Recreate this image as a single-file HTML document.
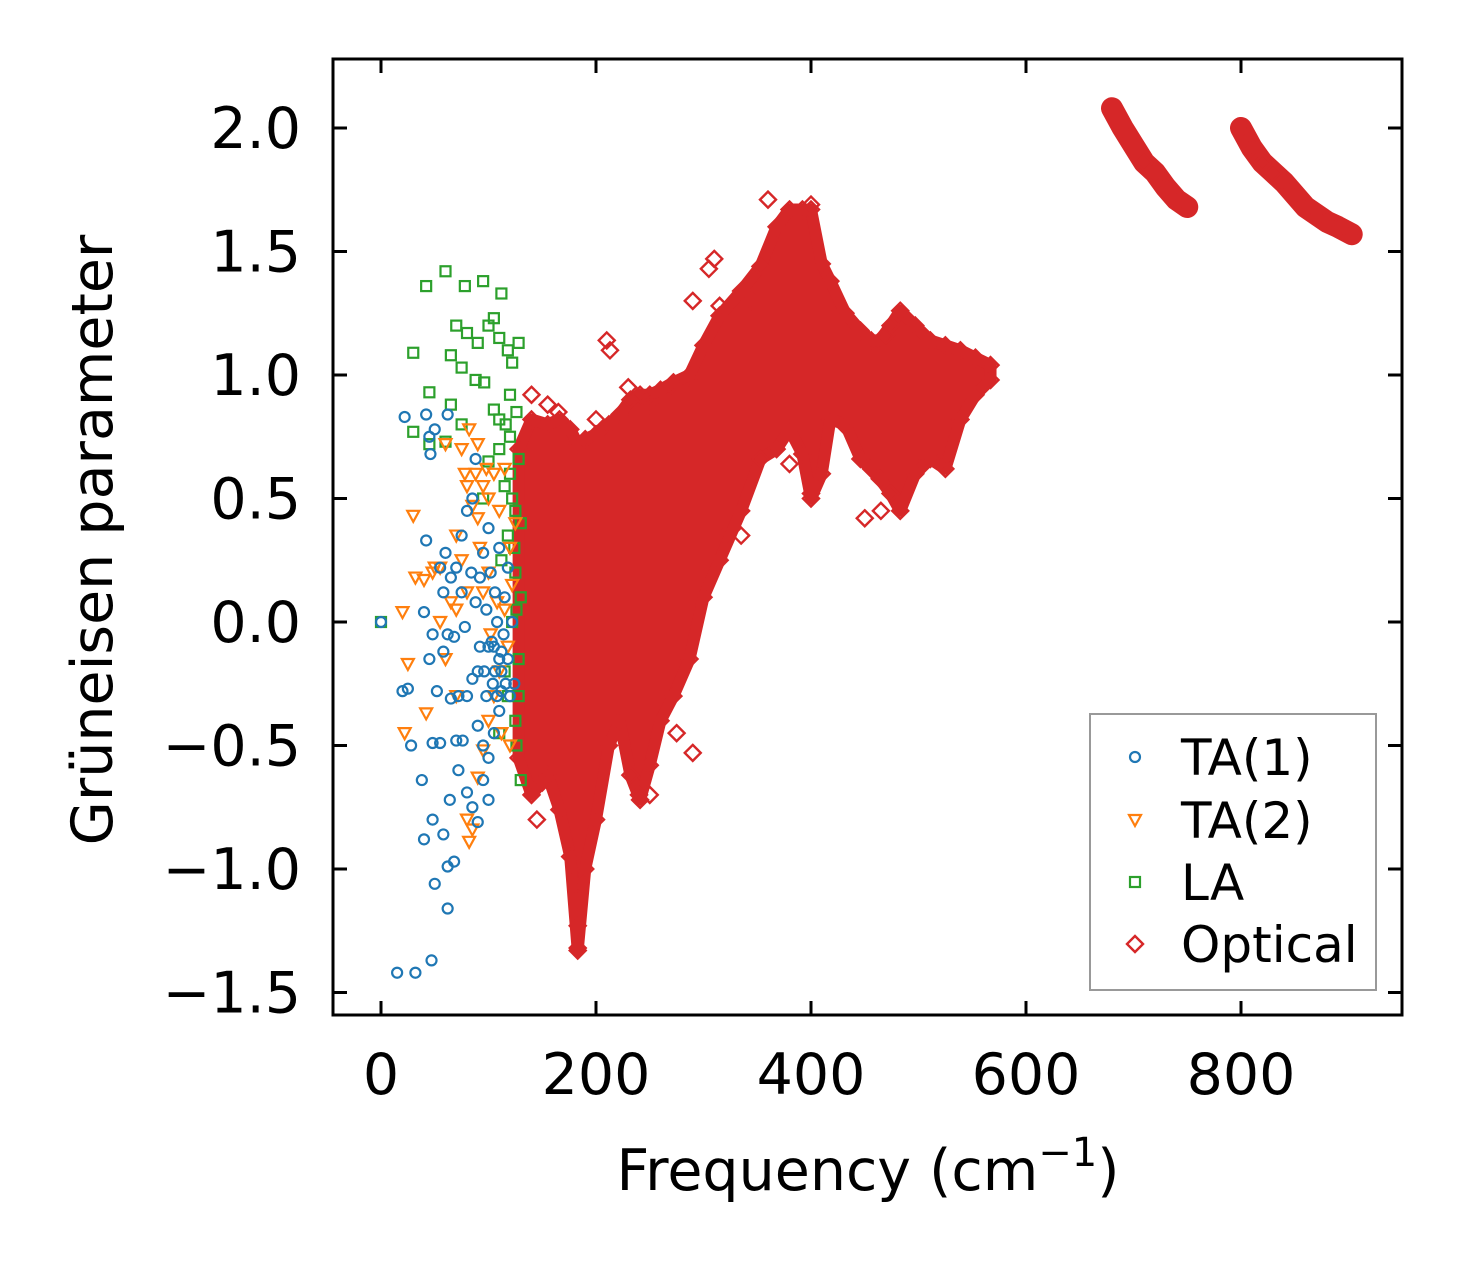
<!DOCTYPE html>
<html><head><meta charset="utf-8">
<style>
html,body{margin:0;padding:0;background:#fff;}
svg{display:block;font-family:"DejaVu Sans","Liberation Sans",sans-serif;}
</style></head>
<body>
<svg id="chart" width="1462" height="1264" viewBox="0 0 1462 1264">
<g id="plot"></g>
<g id="axes"></g>
</svg>
<script>
// ---- data ----
const xTicks = [0, 200, 400, 600, 800];
const yTicks = [2.0, 1.5, 1.0, 0.5, 0.0, -0.5, -1.0, -1.5];
const yTickLabels = ["2.0", "1.5", "1.0", "0.5", "0.0", "\u22120.5", "\u22121.0", "\u22121.5"];
const ta1 = [[0,0],[15,-1.42],[32,-1.42],[47,-1.37],[20,-0.28],[25,-0.27],[28,-0.5],[38,-0.64],[40,-0.88],[48,-0.8],[50,-1.06],[58,-0.86],[62,-1.16],[62,-0.99],[68,-0.97],[64,-0.72],[55,-0.49],[48,-0.49],[70,-0.48],[76,-0.48],[72,-0.6],[80,-0.69],[85,-0.75],[90,-0.81],[95,-0.64],[100,-0.72],[42,0.33],[45,-0.15],[48,-0.05],[40,0.04],[55,0.22],[60,0.28],[58,0.12],[65,0.18],[70,0.22],[75,0.35],[80,0.45],[85,0.5],[88,0.66],[75,0.12],[68,-0.06],[72,-0.3],[80,-0.3],[85,-0.23],[90,-0.42],[95,-0.5],[100,-0.55],[105,-0.45],[110,-0.36],[58,-0.12],[62,-0.05],[52,-0.28],[65,-0.31],[78,-0.02],[88,0.08],[92,-0.1],[98,0.05],[102,0.2],[105,-0.1],[108,0.0],[112,-0.2],[115,0.1],[118,-0.15],[120,-0.3],[110,0.3],[100,0.38],[95,0.28],[90,-0.2],[96,-0.2],[104,-0.25],[114,-0.05],[106,0.12],[118,0.22],[122,0.0],[124,-0.25],[108,-0.3],[112,-0.12],[92,0.18],[84,0.2],[45,0.75],[50,0.78],[22,0.83],[42,0.84],[62,0.84],[46,0.68],[103,-0.08],[110,-0.15],[116,-0.25],[106,-0.2],[100,-0.1],[98,-0.3],[112,-0.28]];
const ta2 = [[30,0.43],[20,0.04],[25,-0.17],[22,-0.45],[42,-0.37],[32,0.18],[40,0.17],[48,0.2],[55,0.22],[60,0.72],[75,0.7],[90,0.72],[82,0.78],[88,0.6],[95,0.55],[100,0.5],[90,0.42],[80,0.55],[85,0.47],[70,0.35],[75,0.25],[80,0.12],[65,0.08],[55,0.0],[60,-0.15],[70,-0.3],[80,-0.8],[85,-0.84],[82,-0.89],[90,-0.63],[95,-0.52],[100,-0.4],[105,-0.3],[110,-0.2],[115,0.05],[120,0.3],[110,0.45],[105,0.6],[115,0.62],[100,0.2],[95,0.12],[102,-0.05],[108,0.08],[118,-0.1],[122,0.15],[112,-0.45],[120,-0.5],[125,0.4],[98,0.62],[92,0.3],[70,0.05],[50,0.22],[78,0.6]];
const la = [[0,0],[30,1.09],[42,1.36],[60,1.42],[78,1.36],[95,1.38],[112,1.33],[70,1.2],[80,1.17],[90,1.13],[100,1.2],[105,1.23],[110,1.15],[118,1.1],[122,1.05],[128,1.13],[65,1.08],[75,1.03],[45,0.93],[30,0.77],[45,0.72],[60,0.73],[65,0.88],[75,0.8],[88,0.98],[96,0.97],[105,0.86],[110,0.82],[116,0.8],[120,0.92],[126,0.85],[100,0.65],[110,0.7],[115,0.55],[120,0.6],[125,0.45],[130,0.4],[118,0.35],[112,0.25],[125,0.2],[130,0.1],[122,0.0],[128,-0.15],[118,-0.3],[125,-0.4],[110,-0.45],[130,-0.64],[126,-0.5],[115,-0.2],[95,0.5],[120,0.75],[128,0.66],[124,0.3],[128,-0.3],[122,0.5],[126,0.05]];
// optical envelope: frequency, lower, upper
const optFreq = [128,140,155,166,176,183,190,200,212,222,232,241,250,260,272,287,300,315,335,353,368,380,392,400,410,418,432,446,456,464,474,483,497,511,525,539,553,567];
const optLow  = [-0.55,-0.7,-0.62,-0.76,-0.95,-1.33,-1.0,-0.8,-0.5,-0.4,-0.62,-0.72,-0.58,-0.4,-0.3,-0.15,0.1,0.25,0.45,0.66,0.7,0.78,0.68,0.5,0.6,0.82,0.8,0.66,0.62,0.58,0.52,0.45,0.6,0.66,0.62,0.82,0.92,0.98];
const optHigh = [0.7,0.82,0.8,0.82,0.78,0.72,0.74,0.76,0.8,0.84,0.9,0.92,0.92,0.94,0.97,1.0,1.12,1.24,1.34,1.44,1.6,1.67,1.67,1.67,1.45,1.38,1.25,1.18,1.14,1.14,1.2,1.26,1.2,1.14,1.12,1.1,1.07,1.04];
const optOutliers = [[360,1.71],[400,1.69],[310,1.47],[305,1.43],[290,1.3],[315,1.28],[345,1.3],[210,1.14],[213,1.1],[335,0.35],[320,0.35],[470,1.16],[450,0.42],[465,0.45],[290,-0.53],[250,-0.7],[240,-0.7],[183,-1.32],[183,-1.23],[145,-0.8],[140,0.92],[165,0.85],[230,0.95],[250,0.88],[270,0.96],[286,0.98],[380,0.64],[400,0.52],[430,0.8],[500,0.62],[520,0.65],[275,-0.45],[210,-0.5],[150,-0.65],[183,-1.12],[183,-1.02],[155,0.88],[200,0.82]];
const band1 = [[680,2.08],[690,2.0],[700,1.93],[710,1.86],[720,1.82],[730,1.76],[740,1.71],[750,1.68]];
const band2 = [[800,2.0],[810,1.92],[820,1.86],[830,1.82],[840,1.78],[850,1.73],[860,1.68],[870,1.65],[880,1.62],[890,1.6],[903,1.57]];

// ---- scales ----
const X0 = 333, X1 = 1402, Y0 = 59, Y1 = 1015;
function sx(f){ return 381 + f * 1.075; }
function sy(g){ return 622 - g * 247; }
const NS = "http://www.w3.org/2000/svg";
const plot = document.getElementById('plot');
const axes = document.getElementById('axes');
function mk(tag, attrs, parent){
  const e = document.createElementNS(NS, tag);
  for (const k in attrs) e.setAttribute(k, attrs[k]);
  parent.appendChild(e);
  return e;
}
const C_BLUE="#1f77b4", C_OR="#ff7f0e", C_GR="#2ca02c", C_RED="#d62728";

function diamond(cx, cy, parent, name){
  const s = 8;
  const e = mk('polygon', {points:`${cx},${cy-s} ${cx+s},${cy} ${cx},${cy+s} ${cx-s},${cy}`, fill:'none', stroke:C_RED, 'stroke-width':2.4}, parent);
  
  
}

let pts = [];
for (let i=0;i<optFreq.length;i++) pts.push(sx(optFreq[i])+','+sy(optHigh[i]));
for (let i=optFreq.length-1;i>=0;i--) pts.push(sx(optFreq[i])+','+sy(optLow[i]));
const env = mk('polygon', {points:pts.join(' '), fill:C_RED, stroke:C_RED, 'stroke-width':12, 'stroke-linejoin':'round'}, plot);


for (let i=0;i<optFreq.length;i++){
  diamond(sx(optFreq[i]), sy(optHigh[i]), plot, 'optical-point');
  diamond(sx(optFreq[i]), sy(optLow[i]), plot, 'optical-point');
}
optOutliers.forEach(p => diamond(sx(p[0]), sy(p[1]), plot, 'optical-point'));
[band1, band2].forEach((b, bi) => {
  const pl = mk('polyline', {points:b.map(p=>sx(p[0])+','+sy(p[1])).join(' '), fill:'none', stroke:C_RED, 'stroke-width':22, 'stroke-linecap':'round', 'stroke-linejoin':'round'}, plot);
  
  
  b.forEach(p => diamond(sx(p[0]), sy(p[1]), plot, 'optical-point'));
});

la.forEach(p => {
  const e = mk('rect', {x:sx(p[0])-5, y:sy(p[1])-5, width:10, height:10, fill:'none', stroke:C_GR, 'stroke-width':2.2}, plot);
  
  
});
ta2.forEach(p => {
  const cx = sx(p[0]), cy = sy(p[1]);
  const e = mk('polygon', {points:`${cx-6},${cy-5} ${cx+6},${cy-5} ${cx},${cy+6}`, fill:'none', stroke:C_OR, 'stroke-width':2.2}, plot);
  
  
});
ta1.forEach(p => {
  const e = mk('circle', {cx:sx(p[0]), cy:sy(p[1]), r:5, fill:'none', stroke:C_BLUE, 'stroke-width':2.2}, plot);
  
  
});

const fr = mk('rect', {x:X0, y:Y0, width:X1-X0, height:Y1-Y0, fill:'none', stroke:'#000', 'stroke-width':3}, axes);


const T = 14;
xTicks.forEach(v => {
  const x = sx(v);
  mk('line', {x1:x, y1:Y1, x2:x, y2:Y1-T, stroke:'#000', 'stroke-width':3}, axes);
  mk('line', {x1:x, y1:Y0, x2:x, y2:Y0+T, stroke:'#000', 'stroke-width':3}, axes);
  const t = mk('text', {x:x, y:1094, 'text-anchor':'middle', 'font-size':57}, axes);
  t.textContent = v;
  
  
});
yTicks.forEach((v, i) => {
  const y = sy(v);
  mk('line', {x1:X0, y1:y, x2:X0+T, y2:y, stroke:'#000', 'stroke-width':3}, axes);
  mk('line', {x1:X1, y1:y, x2:X1-T, y2:y, stroke:'#000', 'stroke-width':3}, axes);
  const t = mk('text', {x:301, y:y+20, 'text-anchor':'end', 'font-size':57}, axes);
  t.textContent = yTickLabels[i];
  
  
});
const xt = mk('text', {x:868, y:1190, 'text-anchor':'middle', 'font-size':57}, axes);
xt.innerHTML = 'Frequency (cm<tspan dy="-24" font-size="40">\u22121</tspan><tspan dy="24">)</tspan>';


const yt = mk('text', {x:0, y:0, 'text-anchor':'middle', 'font-size':57, transform:'translate(112,540) rotate(-90)'}, axes);
yt.textContent = 'Grüneisen parameter';



const lg = mk('g', {}, axes);


mk('rect', {x:1090, y:714, width:286, height:276, fill:'#fff', stroke:'#999', 'stroke-width':2}, lg);
const labels = ['TA(1)', 'TA(2)', 'LA', 'Optical'];
const ly = [757, 820, 882, 944];
labels.forEach((l, i) => {
  const cx = 1135, cy = ly[i];
  if (i===0) mk('circle', {cx:cx, cy:cy, r:5, fill:'none', stroke:C_BLUE, 'stroke-width':2.2}, lg);
  if (i===1) mk('polygon', {points:`${cx-6},${cy-5} ${cx+6},${cy-5} ${cx},${cy+6}`, fill:'none', stroke:C_OR, 'stroke-width':2.2}, lg);
  if (i===2) mk('rect', {x:cx-5, y:cy-5, width:10, height:10, fill:'none', stroke:C_GR, 'stroke-width':2.2}, lg);
  if (i===3) diamond(cx, cy, lg, 'legend-marker-optical');
  const t = mk('text', {x:1181, y:cy+18, 'font-size':50}, lg);
  t.textContent = l;
  
  
});
</script>
</body></html>
